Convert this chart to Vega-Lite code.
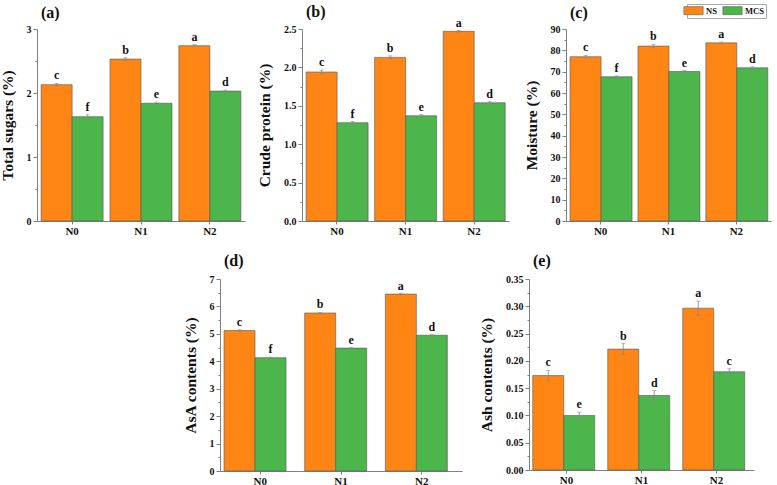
{
  "$schema": "https://vega.github.io/schema/vega-lite/v6.json",
  "padding": {"left": 0, "top": 3, "right": 2, "bottom": 0},
  "background": "white",
  "datasets": {
    "a": [
      {"N": "N0", "treat": "NS", "v": 2.13, "lo": 2.11, "hi": 2.15, "l": "c"},
      {"N": "N0", "treat": "MCS", "v": 1.63, "lo": 1.60, "hi": 1.66, "l": "f"},
      {"N": "N1", "treat": "NS", "v": 2.53, "lo": 2.51, "hi": 2.55, "l": "b"},
      {"N": "N1", "treat": "MCS", "v": 1.84, "lo": 1.825, "hi": 1.855, "l": "e"},
      {"N": "N2", "treat": "NS", "v": 2.74, "lo": 2.725, "hi": 2.755, "l": "a"},
      {"N": "N2", "treat": "MCS", "v": 2.03, "lo": 2.015, "hi": 2.045, "l": "d"}
    ],
    "b": [
      {"N": "N0", "treat": "NS", "v": 1.94, "lo": 1.915, "hi": 1.965, "l": "c"},
      {"N": "N0", "treat": "MCS", "v": 1.28, "lo": 1.265, "hi": 1.295, "l": "f"},
      {"N": "N1", "treat": "NS", "v": 2.13, "lo": 2.11, "hi": 2.15, "l": "b"},
      {"N": "N1", "treat": "MCS", "v": 1.37, "lo": 1.355, "hi": 1.385, "l": "e"},
      {"N": "N2", "treat": "NS", "v": 2.47, "lo": 2.46, "hi": 2.48, "l": "a"},
      {"N": "N2", "treat": "MCS", "v": 1.54, "lo": 1.525, "hi": 1.555, "l": "d"}
    ],
    "c": [
      {"N": "N0", "treat": "NS", "v": 77.0, "lo": 76.4, "hi": 77.6, "l": "c"},
      {"N": "N0", "treat": "MCS", "v": 67.6, "lo": 67.2, "hi": 68.0, "l": "f"},
      {"N": "N1", "treat": "NS", "v": 82.0, "lo": 81.2, "hi": 82.8, "l": "b"},
      {"N": "N1", "treat": "MCS", "v": 70.1, "lo": 69.7, "hi": 70.5, "l": "e"},
      {"N": "N2", "treat": "NS", "v": 83.5, "lo": 83.1, "hi": 83.9, "l": "a"},
      {"N": "N2", "treat": "MCS", "v": 71.8, "lo": 71.3, "hi": 72.3, "l": "d"}
    ],
    "d": [
      {"N": "N0", "treat": "NS", "v": 5.12, "lo": 5.09, "hi": 5.15, "l": "c"},
      {"N": "N0", "treat": "MCS", "v": 4.13, "lo": 4.11, "hi": 4.15, "l": "f"},
      {"N": "N1", "treat": "NS", "v": 5.76, "lo": 5.74, "hi": 5.78, "l": "b"},
      {"N": "N1", "treat": "MCS", "v": 4.48, "lo": 4.46, "hi": 4.50, "l": "e"},
      {"N": "N2", "treat": "NS", "v": 6.45, "lo": 6.43, "hi": 6.47, "l": "a"},
      {"N": "N2", "treat": "MCS", "v": 4.95, "lo": 4.93, "hi": 4.97, "l": "d"}
    ],
    "e": [
      {"N": "N0", "treat": "NS", "v": 0.173, "lo": 0.1635, "hi": 0.1825, "l": "c"},
      {"N": "N0", "treat": "MCS", "v": 0.100, "lo": 0.094, "hi": 0.106, "l": "e"},
      {"N": "N1", "treat": "NS", "v": 0.2215, "lo": 0.2115, "hi": 0.2315, "l": "b"},
      {"N": "N1", "treat": "MCS", "v": 0.1365, "lo": 0.1275, "hi": 0.1455, "l": "d"},
      {"N": "N2", "treat": "NS", "v": 0.2965, "lo": 0.2835, "hi": 0.3095, "l": "a"},
      {"N": "N2", "treat": "MCS", "v": 0.180, "lo": 0.1745, "hi": 0.1855, "l": "c"}
    ]
  },
  "config": {
    "view": {"stroke": null},
    "font": "Liberation Serif",
    "title": {"font": "Liberation Serif", "fontSize": 16, "fontWeight": "bold", "anchor": "start", "frame": "group", "dx": 4, "offset": 3, "color": "#111"},
    "axis": {"labelFont": "Liberation Serif", "titleFont": "Liberation Serif", "labelFontWeight": "bold", "titleFontWeight": "bold", "domainColor": "#808080", "tickColor": "#808080", "labelColor": "#111", "titleColor": "#111", "grid": false},
    "axisX": {"labelAngle": 0, "labelFontSize": 11, "tickSize": 3, "labelPadding": 1},
    "axisY": {"labelFontSize": 10, "titleFontSize": 15.5, "labelPadding": 2, "titlePadding": 11, "labelOverlap": false},
    "bar": {"stroke": "#555555", "strokeWidth": 0.6},
    "rule": {"color": "#888888", "strokeWidth": 0.8},
    "tick": {"color": "#888888", "thickness": 0.8},
    "text": {"font": "Liberation Serif", "fontWeight": "bold", "fontSize": 12, "baseline": "bottom", "dy": -1, "color": "#111"}
  },
  "spacing": 17,
  "resolve": {"scale": {"color": "independent"}},
  "vconcat": [
    {
      "hconcat": [
        {
          "width": 208, "height": 192,
          "title": {"text": "(a)", "offset": 3},
          "data": {"name": "a"},
          "encoding": {
            "x": {"field": "N", "type": "nominal", "title": null, "scale": {"paddingInner": 0.1, "paddingOuter": 0.06}},
            "xOffset": {"field": "treat", "type": "nominal", "scale": {"domain": ["NS", "MCS"]}}
          },
          "layer": [
            {"mark": "bar", "encoding": {
              "y": {"field": "v", "type": "quantitative", "scale": {"domain": [0, 3], "nice": false}, "title": "Total sugars (%)",
                "axis": {"values": [0, 0.5, 1, 1.5, 2, 2.5, 3], "format": ".0f", "labelOverlap": false, "labelExpr": "datum.value % 1 === 0 ? datum.label : ''", "tickSize": {"condition": {"test": "datum.value % 1 === 0", "value": 4}, "value": 2}}},
              "color": {"field": "treat", "type": "nominal", "scale": {"domain": ["NS", "MCS"], "range": ["#FF8514", "#4CB54C"]}, "legend": null}}},
            {"mark": "rule", "encoding": {"y": {"field": "lo", "type": "quantitative", "scale": {"domain": [0, 3], "nice": false}, "title": "Total sugars (%)",
                "axis": {"values": [0, 0.5, 1, 1.5, 2, 2.5, 3], "format": ".0f", "labelOverlap": false, "labelExpr": "datum.value % 1 === 0 ? datum.label : ''", "tickSize": {"condition": {"test": "datum.value % 1 === 0", "value": 4}, "value": 2}}}, "y2": {"field": "hi"}}},
            {"mark": {"type": "tick", "size": 4}, "encoding": {"y": {"field": "hi", "type": "quantitative", "scale": {"domain": [0, 3], "nice": false}, "title": "Total sugars (%)",
                "axis": {"values": [0, 0.5, 1, 1.5, 2, 2.5, 3], "format": ".0f", "labelOverlap": false, "labelExpr": "datum.value % 1 === 0 ? datum.label : ''", "tickSize": {"condition": {"test": "datum.value % 1 === 0", "value": 4}, "value": 2}}}}},
            {"mark": {"type": "tick", "size": 4}, "encoding": {"y": {"field": "lo", "type": "quantitative", "scale": {"domain": [0, 3], "nice": false}, "title": "Total sugars (%)",
                "axis": {"values": [0, 0.5, 1, 1.5, 2, 2.5, 3], "format": ".0f", "labelOverlap": false, "labelExpr": "datum.value % 1 === 0 ? datum.label : ''", "tickSize": {"condition": {"test": "datum.value % 1 === 0", "value": 4}, "value": 2}}}}},
            {"mark": "text", "encoding": {"y": {"field": "hi", "type": "quantitative", "scale": {"domain": [0, 3], "nice": false}, "title": "Total sugars (%)",
                "axis": {"values": [0, 0.5, 1, 1.5, 2, 2.5, 3], "format": ".0f", "labelOverlap": false, "labelExpr": "datum.value % 1 === 0 ? datum.label : ''", "tickSize": {"condition": {"test": "datum.value % 1 === 0", "value": 4}, "value": 2}}}, "text": {"field": "l"}}}
          ]
        },
        {
          "width": 207, "height": 192,
          "title": {"text": "(b)", "offset": -3.5},
          "data": {"name": "b"},
          "encoding": {
            "x": {"field": "N", "type": "nominal", "title": null, "scale": {"paddingInner": 0.1, "paddingOuter": 0.06}},
            "xOffset": {"field": "treat", "type": "nominal", "scale": {"domain": ["NS", "MCS"]}}
          },
          "layer": [
            {"mark": "bar", "encoding": {
              "y": {"field": "v", "type": "quantitative", "scale": {"domain": [0, 2.5], "nice": false}, "title": "Crude protein (%)",
                "axis": {"values": [0, 0.25, 0.5, 0.75, 1, 1.25, 1.5, 1.75, 2, 2.25, 2.5], "format": ".1f", "labelOverlap": false, "labelExpr": "datum.value % 0.5 === 0 ? datum.label : ''", "tickSize": {"condition": {"test": "datum.value % 0.5 === 0", "value": 4}, "value": 2}}},
              "color": {"field": "treat", "type": "nominal", "scale": {"domain": ["NS", "MCS"], "range": ["#FF8514", "#4CB54C"]}, "legend": null}}},
            {"mark": "rule", "encoding": {"y": {"field": "lo", "type": "quantitative", "scale": {"domain": [0, 2.5], "nice": false}, "title": "Crude protein (%)",
                "axis": {"values": [0, 0.25, 0.5, 0.75, 1, 1.25, 1.5, 1.75, 2, 2.25, 2.5], "format": ".1f", "labelOverlap": false, "labelExpr": "datum.value % 0.5 === 0 ? datum.label : ''", "tickSize": {"condition": {"test": "datum.value % 0.5 === 0", "value": 4}, "value": 2}}}, "y2": {"field": "hi"}}},
            {"mark": {"type": "tick", "size": 4}, "encoding": {"y": {"field": "hi", "type": "quantitative", "scale": {"domain": [0, 2.5], "nice": false}, "title": "Crude protein (%)",
                "axis": {"values": [0, 0.25, 0.5, 0.75, 1, 1.25, 1.5, 1.75, 2, 2.25, 2.5], "format": ".1f", "labelOverlap": false, "labelExpr": "datum.value % 0.5 === 0 ? datum.label : ''", "tickSize": {"condition": {"test": "datum.value % 0.5 === 0", "value": 4}, "value": 2}}}}},
            {"mark": {"type": "tick", "size": 4}, "encoding": {"y": {"field": "lo", "type": "quantitative", "scale": {"domain": [0, 2.5], "nice": false}, "title": "Crude protein (%)",
                "axis": {"values": [0, 0.25, 0.5, 0.75, 1, 1.25, 1.5, 1.75, 2, 2.25, 2.5], "format": ".1f", "labelOverlap": false, "labelExpr": "datum.value % 0.5 === 0 ? datum.label : ''", "tickSize": {"condition": {"test": "datum.value % 0.5 === 0", "value": 4}, "value": 2}}}}},
            {"mark": "text", "encoding": {"y": {"field": "hi", "type": "quantitative", "scale": {"domain": [0, 2.5], "nice": false}, "title": "Crude protein (%)",
                "axis": {"values": [0, 0.25, 0.5, 0.75, 1, 1.25, 1.5, 1.75, 2, 2.25, 2.5], "format": ".1f", "labelOverlap": false, "labelExpr": "datum.value % 0.5 === 0 ? datum.label : ''", "tickSize": {"condition": {"test": "datum.value % 0.5 === 0", "value": 4}, "value": 2}}}, "text": {"field": "l"}}}
          ]
        },
        {
          "width": 205, "height": 192,
          "title": {"text": "(c)", "offset": -17},
          "data": {"name": "c"},
          "encoding": {
            "x": {"field": "N", "type": "nominal", "title": null, "scale": {"paddingInner": 0.1, "paddingOuter": 0.06}},
            "xOffset": {"field": "treat", "type": "nominal", "scale": {"domain": ["NS", "MCS"]}}
          },
          "layer": [
            {"mark": "bar", "encoding": {
              "y": {"field": "v", "type": "quantitative", "scale": {"domain": [0, 90], "nice": false}, "title": "Moisture (%)",
                "axis": {"values": [0, 5, 10, 15, 20, 25, 30, 35, 40, 45, 50, 55, 60, 65, 70, 75, 80, 85, 90], "format": "d", "labelOverlap": false, "labelExpr": "datum.value % 10 === 0 ? datum.label : ''", "tickSize": {"condition": {"test": "datum.value % 10 === 0", "value": 4}, "value": 2}}},
              "color": {"field": "treat", "type": "nominal", "scale": {"domain": ["NS", "MCS"], "range": ["#FF8514", "#4CB54C"]},
                "legend": {"orient": "none", "legendX": 121, "legendY": -25, "direction": "horizontal", "title": null, "symbolType": "M-2.4,-1H2.4V1H-2.4Z", "symbolSize": 64, "labelOffset": 8, "columnPadding": 4, "padding": 2, "strokeColor": "#aaaaaa", "labelFont": "Liberation Serif", "labelFontWeight": "bold", "labelFontSize": 8.5, "labelColor": "#111", "symbolStrokeColor": "#555555", "symbolStrokeWidth": 0.5, "symbolOpacity": 1}}}},
            {"mark": "rule", "encoding": {"y": {"field": "lo", "type": "quantitative", "scale": {"domain": [0, 90], "nice": false}, "title": "Moisture (%)",
                "axis": {"values": [0, 5, 10, 15, 20, 25, 30, 35, 40, 45, 50, 55, 60, 65, 70, 75, 80, 85, 90], "format": "d", "labelOverlap": false, "labelExpr": "datum.value % 10 === 0 ? datum.label : ''", "tickSize": {"condition": {"test": "datum.value % 10 === 0", "value": 4}, "value": 2}}}, "y2": {"field": "hi"}}},
            {"mark": {"type": "tick", "size": 4}, "encoding": {"y": {"field": "hi", "type": "quantitative", "scale": {"domain": [0, 90], "nice": false}, "title": "Moisture (%)",
                "axis": {"values": [0, 5, 10, 15, 20, 25, 30, 35, 40, 45, 50, 55, 60, 65, 70, 75, 80, 85, 90], "format": "d", "labelOverlap": false, "labelExpr": "datum.value % 10 === 0 ? datum.label : ''", "tickSize": {"condition": {"test": "datum.value % 10 === 0", "value": 4}, "value": 2}}}}},
            {"mark": {"type": "tick", "size": 4}, "encoding": {"y": {"field": "lo", "type": "quantitative", "scale": {"domain": [0, 90], "nice": false}, "title": "Moisture (%)",
                "axis": {"values": [0, 5, 10, 15, 20, 25, 30, 35, 40, 45, 50, 55, 60, 65, 70, 75, 80, 85, 90], "format": "d", "labelOverlap": false, "labelExpr": "datum.value % 10 === 0 ? datum.label : ''", "tickSize": {"condition": {"test": "datum.value % 10 === 0", "value": 4}, "value": 2}}}}},
            {"mark": "text", "encoding": {"y": {"field": "hi", "type": "quantitative", "scale": {"domain": [0, 90], "nice": false}, "title": "Moisture (%)",
                "axis": {"values": [0, 5, 10, 15, 20, 25, 30, 35, 40, 45, 50, 55, 60, 65, 70, 75, 80, 85, 90], "format": "d", "labelOverlap": false, "labelExpr": "datum.value % 10 === 0 ? datum.label : ''", "tickSize": {"condition": {"test": "datum.value % 10 === 0", "value": 4}, "value": 2}}}, "text": {"field": "l"}}}
          ]
        }
      ],
      "spacing": 57,
      "bounds": "flush",
      "resolve": {"scale": {"color": "independent"}}
    },
    {
      "hconcat": [
        {
          "width": 116, "height": 192,
          "data": {"values": [{"z": 0}]},
          "mark": {"type": "text", "text": ""},
          "encoding": {}
        },
        {
          "width": 242, "height": 192,
          "title": {"text": "(d)", "offset": 5},
          "data": {"name": "d"},
          "encoding": {
            "x": {"field": "N", "type": "nominal", "title": null, "scale": {"paddingInner": 0.1, "paddingOuter": 0.05}},
            "xOffset": {"field": "treat", "type": "nominal", "scale": {"domain": ["NS", "MCS"]}}
          },
          "layer": [
            {"mark": "bar", "encoding": {
              "y": {"field": "v", "type": "quantitative", "scale": {"domain": [0, 7], "nice": false}, "title": "AsA contents (%)",
                "axis": {"values": [0, 0.5, 1, 1.5, 2, 2.5, 3, 3.5, 4, 4.5, 5, 5.5, 6, 6.5, 7], "format": ".0f", "labelOverlap": false, "labelExpr": "datum.value % 1 === 0 ? datum.label : ''", "tickSize": {"condition": {"test": "datum.value % 1 === 0", "value": 4}, "value": 2}}},
              "color": {"field": "treat", "type": "nominal", "scale": {"domain": ["NS", "MCS"], "range": ["#FF8514", "#4CB54C"]}, "legend": null}}},
            {"mark": "rule", "encoding": {"y": {"field": "lo", "type": "quantitative", "scale": {"domain": [0, 7], "nice": false}, "title": "AsA contents (%)",
                "axis": {"values": [0, 0.5, 1, 1.5, 2, 2.5, 3, 3.5, 4, 4.5, 5, 5.5, 6, 6.5, 7], "format": ".0f", "labelOverlap": false, "labelExpr": "datum.value % 1 === 0 ? datum.label : ''", "tickSize": {"condition": {"test": "datum.value % 1 === 0", "value": 4}, "value": 2}}}, "y2": {"field": "hi"}}},
            {"mark": {"type": "tick", "size": 4}, "encoding": {"y": {"field": "hi", "type": "quantitative", "scale": {"domain": [0, 7], "nice": false}, "title": "AsA contents (%)",
                "axis": {"values": [0, 0.5, 1, 1.5, 2, 2.5, 3, 3.5, 4, 4.5, 5, 5.5, 6, 6.5, 7], "format": ".0f", "labelOverlap": false, "labelExpr": "datum.value % 1 === 0 ? datum.label : ''", "tickSize": {"condition": {"test": "datum.value % 1 === 0", "value": 4}, "value": 2}}}}},
            {"mark": {"type": "tick", "size": 4}, "encoding": {"y": {"field": "lo", "type": "quantitative", "scale": {"domain": [0, 7], "nice": false}, "title": "AsA contents (%)",
                "axis": {"values": [0, 0.5, 1, 1.5, 2, 2.5, 3, 3.5, 4, 4.5, 5, 5.5, 6, 6.5, 7], "format": ".0f", "labelOverlap": false, "labelExpr": "datum.value % 1 === 0 ? datum.label : ''", "tickSize": {"condition": {"test": "datum.value % 1 === 0", "value": 4}, "value": 2}}}}},
            {"mark": "text", "encoding": {"y": {"field": "hi", "type": "quantitative", "scale": {"domain": [0, 7], "nice": false}, "title": "AsA contents (%)",
                "axis": {"values": [0, 0.5, 1, 1.5, 2, 2.5, 3, 3.5, 4, 4.5, 5, 5.5, 6, 6.5, 7], "format": ".0f", "labelOverlap": false, "labelExpr": "datum.value % 1 === 0 ? datum.label : ''", "tickSize": {"condition": {"test": "datum.value % 1 === 0", "value": 4}, "value": 2}}}, "text": {"field": "l"}}}
          ]
        },
        {
          "width": 225, "height": 191,
          "title": {"text": "(e)", "offset": 5},
          "data": {"name": "e"},
          "encoding": {
            "x": {"field": "N", "type": "nominal", "title": null, "scale": {"paddingInner": 0.1, "paddingOuter": 0.05}},
            "xOffset": {"field": "treat", "type": "nominal", "scale": {"domain": ["NS", "MCS"]}}
          },
          "layer": [
            {"mark": "bar", "encoding": {
              "y": {"field": "v", "type": "quantitative", "scale": {"domain": [0, 0.35], "nice": false}, "title": "Ash contents (%)",
                "axis": {"values": [0, 0.025, 0.05, 0.075, 0.1, 0.125, 0.15, 0.175, 0.2, 0.225, 0.25, 0.275, 0.3, 0.325, 0.35], "format": ".2f", "labelOverlap": false, "labelExpr": "abs(datum.value*20 - round(datum.value*20)) < 0.001 ? datum.label : ''", "tickSize": {"condition": {"test": "abs(datum.value*20 - round(datum.value*20)) < 0.001", "value": 4}, "value": 2}}},
              "color": {"field": "treat", "type": "nominal", "scale": {"domain": ["NS", "MCS"], "range": ["#FF8514", "#4CB54C"]}, "legend": null}}},
            {"mark": "rule", "encoding": {"y": {"field": "lo", "type": "quantitative", "scale": {"domain": [0, 0.35], "nice": false}, "title": "Ash contents (%)",
                "axis": {"values": [0, 0.025, 0.05, 0.075, 0.1, 0.125, 0.15, 0.175, 0.2, 0.225, 0.25, 0.275, 0.3, 0.325, 0.35], "format": ".2f", "labelOverlap": false, "labelExpr": "abs(datum.value*20 - round(datum.value*20)) < 0.001 ? datum.label : ''", "tickSize": {"condition": {"test": "abs(datum.value*20 - round(datum.value*20)) < 0.001", "value": 4}, "value": 2}}}, "y2": {"field": "hi"}}},
            {"mark": {"type": "tick", "size": 4}, "encoding": {"y": {"field": "hi", "type": "quantitative", "scale": {"domain": [0, 0.35], "nice": false}, "title": "Ash contents (%)",
                "axis": {"values": [0, 0.025, 0.05, 0.075, 0.1, 0.125, 0.15, 0.175, 0.2, 0.225, 0.25, 0.275, 0.3, 0.325, 0.35], "format": ".2f", "labelOverlap": false, "labelExpr": "abs(datum.value*20 - round(datum.value*20)) < 0.001 ? datum.label : ''", "tickSize": {"condition": {"test": "abs(datum.value*20 - round(datum.value*20)) < 0.001", "value": 4}, "value": 2}}}}},
            {"mark": {"type": "tick", "size": 4}, "encoding": {"y": {"field": "lo", "type": "quantitative", "scale": {"domain": [0, 0.35], "nice": false}, "title": "Ash contents (%)",
                "axis": {"values": [0, 0.025, 0.05, 0.075, 0.1, 0.125, 0.15, 0.175, 0.2, 0.225, 0.25, 0.275, 0.3, 0.325, 0.35], "format": ".2f", "labelOverlap": false, "labelExpr": "abs(datum.value*20 - round(datum.value*20)) < 0.001 ? datum.label : ''", "tickSize": {"condition": {"test": "abs(datum.value*20 - round(datum.value*20)) < 0.001", "value": 4}, "value": 2}}}}},
            {"mark": "text", "encoding": {"y": {"field": "hi", "type": "quantitative", "scale": {"domain": [0, 0.35], "nice": false}, "title": "Ash contents (%)",
                "axis": {"values": [0, 0.025, 0.05, 0.075, 0.1, 0.125, 0.15, 0.175, 0.2, 0.225, 0.25, 0.275, 0.3, 0.325, 0.35], "format": ".2f", "labelOverlap": false, "labelExpr": "abs(datum.value*20 - round(datum.value*20)) < 0.001 ? datum.label : ''", "tickSize": {"condition": {"test": "abs(datum.value*20 - round(datum.value*20)) < 0.001", "value": 4}, "value": 2}}}, "text": {"field": "l"}}}
          ]
        }
      ],
      "spacing": 67,
      "bounds": "flush",
      "resolve": {"scale": {"color": "independent"}}
    }
  ]
}
